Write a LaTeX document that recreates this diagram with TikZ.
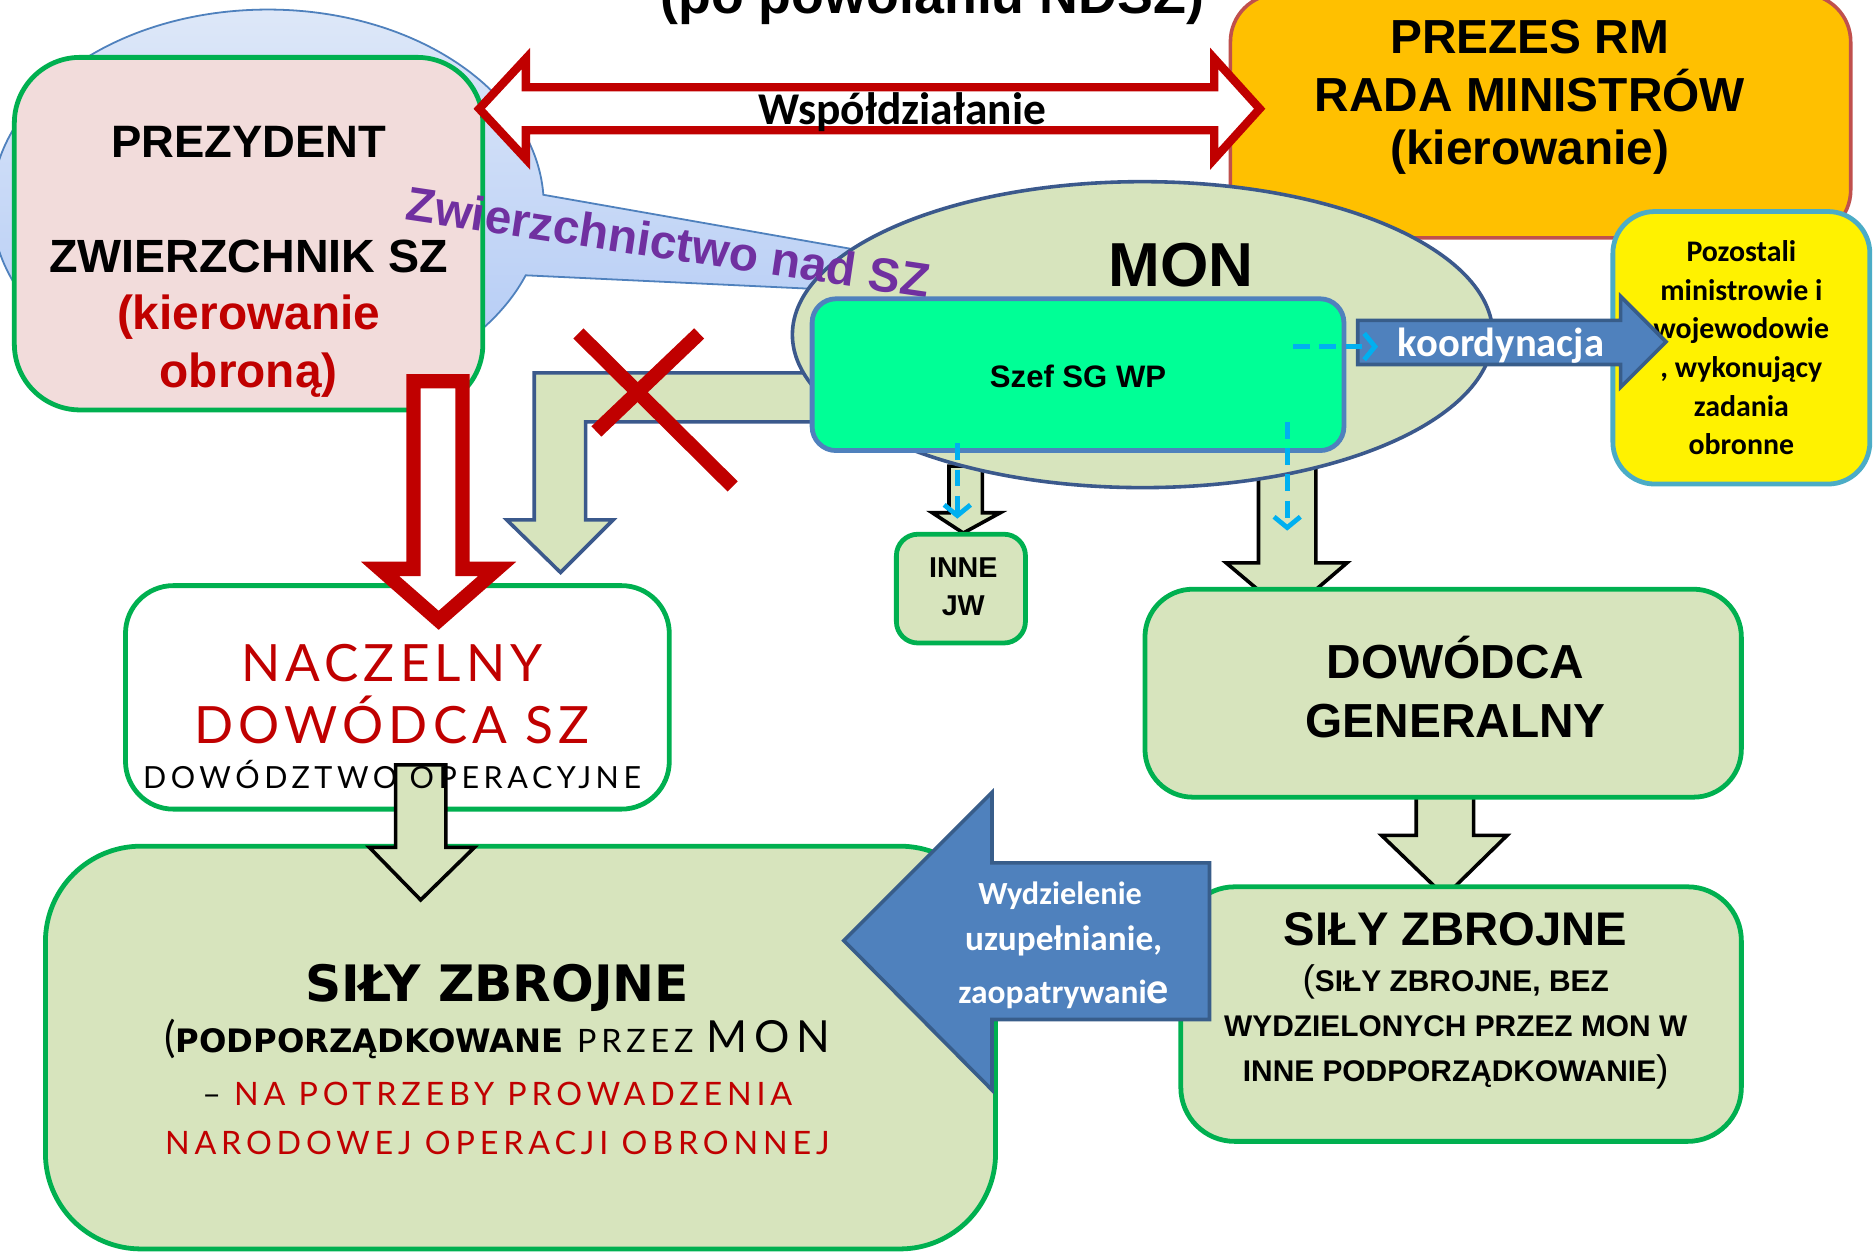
\documentclass[tikz,border=0pt]{standalone}
\usepackage{fontspec}
\setmainfont{Liberation Sans}
\newfontfamily\calfont{Carlito}
\newfontfamily\thinfont{Lato}[LetterSpace=10]
\newfontfamily\thinwide{Lato}[LetterSpace=15]
\newfontfamily\heavyfont{DejaVu Sans}
\usetikzlibrary{shapes.geometric,shapes.callouts,arrows.meta}

\definecolor{oliwka}{RGB}{215,228,189}
\definecolor{ziel}{RGB}{0,176,80}
\definecolor{czerw}{RGB}{192,0,0}
\definecolor{nieb}{RGB}{79,129,189}
\definecolor{niebciem}{RGB}{56,93,138}
\definecolor{monbrzeg}{RGB}{59,89,140}
\definecolor{blekit}{RGB}{0,176,240}
\definecolor{fiolet}{RGB}{112,48,160}
\definecolor{pomarancz}{RGB}{255,192,0}
\definecolor{ceglany}{RGB}{192,80,77}
\definecolor{rozowy}{RGB}{242,220,219}
\definecolor{seledyn}{RGB}{0,255,150}
\definecolor{chmuragora}{RGB}{222,232,248}
\definecolor{chmuradol}{RGB}{175,200,245}
\definecolor{morski}{RGB}{75,172,198}

\newcommand{\fsz}[1]{\fontsize{#1}{#1}\selectfont}

\tikzset{
  ramka/.style={draw=ziel, fill=oliwka, line width=4, rounded corners=45},
  pelna/.style={fill=oliwka, draw=black, line width=3, line join=miter},
  blok/.style={fill=nieb, draw=niebciem, line width=3, line join=miter},
  kreski/.style={blekit, line width=4, dash pattern=on 14 off 8,
    -{Straight Barb[length=9,width=22]}},
  napis/.style={anchor=base, inner sep=0}
}

\begin{document}
\begin{tikzpicture}[x=1pt,y=-1pt]
\useasboundingbox (0,0) rectangle (1568,1048);
\clip (0,0) rectangle (1568,1048);
\fill[white] (0,0) rectangle (1568,1048);

% title, cut by the top edge
\node[napis, font=\bfseries\fsz{45}] (tytul) at (780,11) {(po powołaniu NDSZ)};

% cloud behind the president
\node[ellipse callout, draw=nieb, top color=chmuragora, bottom color=chmuradol, line width=1.5,
  minimum width=462, minimum height=328,
  callout absolute pointer={(984,256)}, callout pointer arc=24] (chmurka) at (224,172) {};

% PREZES RM
\node[draw=ceglany, fill=pomarancz, line width=3, rounded corners=40,
  minimum width=519, minimum height=204] (prezes) at (1289,97) {};
\node[napis, font=\bfseries\fsz{40}] (prezes1) at (1280,45) {PREZES RM};
\node[napis, font=\bfseries\fsz{40}] (prezes2) at (1280,93) {RADA MINISTRÓW};
\node[napis, font=\bfseries\fsz{40}] (prezes3) at (1280,138) {(kierowanie)};

% PREZYDENT
\node[ramka, fill=rozowy, rounded corners=55,
  minimum width=392, minimum height=295] (prezydent) at (208,195.5) {};
\node[napis, font=\bfseries\fsz{38}] (prez1) at (208,132) {PREZYDENT};
\node[napis, font=\bfseries\fsz{39}] (prez2) at (208,228) {ZWIERZCHNIK SZ};
\node[napis, font=\bfseries\fsz{40}, text=czerw] (prez3) at (208,276) {(kierowanie};
\node[napis, font=\bfseries\fsz{40}, text=czerw] (prez4) at (208,324) {obroną)};

% Wspoldzialanie
\draw[czerw, line width=7, fill=white, line join=miter]
  (401,91) -- (440,49) -- (440,73) -- (1016,73) -- (1016,49) -- (1054,91)
  -- (1016,133) -- (1016,109) -- (440,109) -- (440,133) -- cycle;
\node[napis, font=\calfont\bfseries\fsz{38}] (wspol) at (755,104) {Współdziałanie};

% arrows leaving MON (under the ellipse)
\draw[pelna] (1185,662) -- (1233,662) -- (1233,699) -- (1261,699) -- (1209,750)
  -- (1156,699) -- (1185,699) -- cycle;
\draw[pelna] (1053,390) -- (1101,390) -- (1101,471) -- (1127,471) -- (1077,514)
  -- (1026,471) -- (1053,471) -- cycle;
\draw[pelna] (794,390) -- (822,390) -- (822,429) -- (837,429) -- (806,446)
  -- (780,429) -- (794,429) -- cycle;
\draw[fill=oliwka, draw=monbrzeg, line width=3, line join=miter]
  (700,312) -- (447,312) -- (447,435) -- (424,435) -- (469,479) -- (513,435)
  -- (490,435) -- (490,353) -- (700,353) -- cycle;

% MON
\node[ellipse, draw=monbrzeg, fill=oliwka, line width=3,
  minimum width=586, minimum height=256] (mon) at (956,280) {};
\node[napis, font=\bfseries\fsz{52}] (monnapis) at (988,240) {MON};

\node[anchor=base west, inner sep=0, font=\bfseries\fsz{40}, text=fiolet, rotate=-8.5]
  (zwierz) at (338,184) {Zwierzchnictwo nad SZ};

% Szef SG WP
\node[draw=nieb, fill=seledyn, line width=4, rounded corners=20,
  minimum width=445, minimum height=127] (szef) at (902,313.5) {};
\node[napis, font=\bfseries\fsz{26}] (szefnapis) at (902,324) {Szef SG WP};

% Pozostali ministrowie
\node[draw=morski, fill=yellow, line width=4, rounded corners=35,
  minimum width=215, minimum height=228, align=center,
  font=\calfont\bfseries\fontsize{25}{32.3}\selectfont] (pozostali) at (1457,291)
  {Pozostali\\ministrowie i\\wojewodowie\\, wykonujący\\zadania\\obronne};

% koordynacja
\draw[blok] (1136,268) -- (1356,268) -- (1356,248) -- (1394,286) -- (1356,324)
  -- (1356,305) -- (1136,305) -- cycle;
\node[napis, font=\calfont\bfseries\fsz{34}, text=white] (koord) at (1256,298) {koordynacja};
\draw[kreski] (1082,290) -- (1153,290);
\draw[kreski] (801,371) -- (801,434);
\draw[kreski] (1077,353) -- (1077,444);

% crossed out
\draw[czerw, line width=12] (484,279) -- (613,407);
\draw[czerw, line width=12] (585,279) -- (499,361);

% NACZELNY DOWODCA
\node[ramka, fill=white, rounded corners=40,
  minimum width=455, minimum height=187] (naczelny) at (332.5,583.5) {};
\node[napis, font=\thinfont\fsz{43}, text=czerw] (nacz1) at (328,570) {NACZELNY};
\node[napis, font=\thinfont\fsz{43}, text=czerw] (nacz2) at (328,622) {DOWÓDCA SZ};

% red hollow arrow
\draw[czerw, line width=12, fill=white, line join=miter]
  (346,319) -- (387,319) -- (387,476) -- (416,476) -- (367,519) -- (318,476)
  -- (346,476) -- cycle;

% SILY ZBROJNE (left)
\node[ramka, rounded corners=80,
  minimum width=795, minimum height=337] (szlewe) at (435.5,876.5) {};
\draw[pelna] (331,640) -- (373,640) -- (373,709) -- (397,709) -- (352,753)
  -- (309,709) -- (331,709) -- cycle;
\node[napis, font=\thinwide\fsz{25.5}] (nacz3) at (328,660) {DOWÓDZTWO OPERACYJNE};
\node[napis, font=\heavyfont\bfseries\fsz{42}] (szl1) at (416,838) {SIŁY ZBROJNE};
\node[napis] (szl2) at (416,881) {{\thinwide\fsz{36}(}{\heavyfont\bfseries\fsz{27}PODPORZĄDKOWANE}{\thinwide\fsz{27} PRZEZ }{\thinwide\fsz{37}MON}};
\node[napis, font=\thinwide\fsz{27}] (szl3) at (416,925) {– \textcolor{czerw}{NA POTRZEBY PROWADZENIA}};
\node[napis, font=\thinwide\fsz{27}, text=czerw] (szl4) at (416,966) {NARODOWEJ OPERACJI OBRONNEJ};

% INNE JW
\node[ramka, rounded corners=18, minimum width=108, minimum height=91] (inne) at (804,492.5) {};
\node[napis, font=\bfseries\fsz{24}] (inne1) at (806,483) {INNE};
\node[napis, font=\bfseries\fsz{24}] (inne2) at (806,515) {JW};

% DOWODCA GENERALNY
\node[ramka, rounded corners=40, minimum width=499, minimum height=174] (dowodca) at (1207.5,580) {};
\node[napis, font=\bfseries\fsz{40}] (dg1) at (1218,568) {DOWÓDCA};
\node[napis, font=\bfseries\fsz{40}] (dg2) at (1218,617) {GENERALNY};

% SILY ZBROJNE (right)
\node[ramka, rounded corners=45, minimum width=469, minimum height=213] (szprawe) at (1222.5,848.5) {};
\node[napis, font=\bfseries\fsz{39.5}] (szp1) at (1218,791) {SIŁY ZBROJNE};
\node[napis, font=\bfseries\fsz{25}] (szp2) at (1218,830) {{\mdseries\fsz{31}(}SIŁY ZBROJNE, BEZ};
\node[napis, font=\bfseries\fsz{25}] (szp3) at (1218,867) {WYDZIELONYCH PRZEZ MON W};
\node[napis, font=\bfseries\fsz{25}] (szp4) at (1218,905) {INNE PODPORZĄDKOWANIE{\mdseries\fsz{31})}};

% Wydzielenie
\draw[blok] (706,787) -- (830,663) -- (830,722) -- (1012,722) -- (1012,853)
  -- (830,853) -- (830,912) -- cycle;
\node[napis, font=\calfont\bfseries\fsz{27}, text=white] (wydz1) at (887,757) {Wydzielenie};
\node[napis, font=\calfont\bfseries\fsz{29.5}, text=white] (wydz2) at (890,795) {uzupełnianie,};
\node[napis, font=\calfont\bfseries\fsz{28}, text=white] (wydz3) at (890,840) {zaopatrywani{\fsz{37}e}};
\end{tikzpicture}
\end{document}
